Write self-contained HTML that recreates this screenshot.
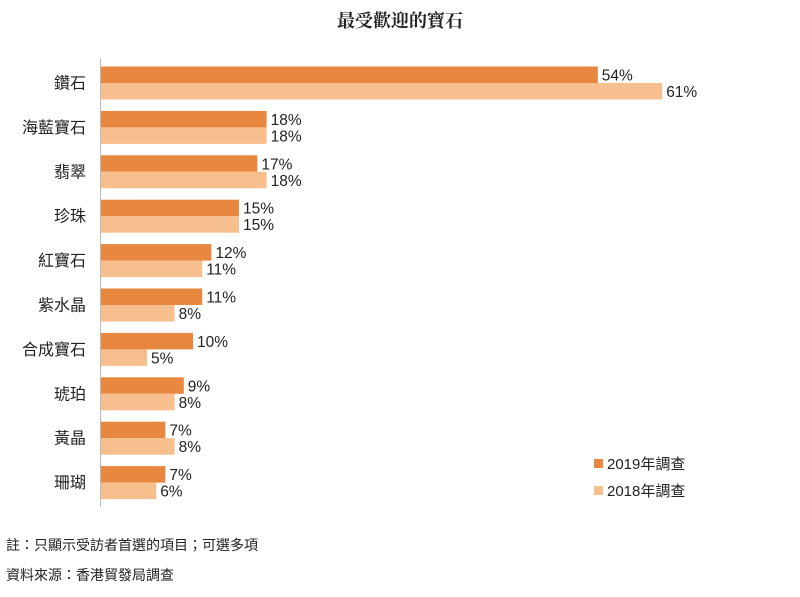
<!DOCTYPE html>
<html><head><meta charset="utf-8"><style>
body{margin:0;background:#fff;}
svg text{font-family:"Liberation Sans","Noto Sans CJK TC",sans-serif;fill:#222;}
.a{fill:#E8873F}.b{fill:#F8BF8E}
.p{font-size:15.5px}.c{font-size:16px;text-anchor:end}
</style></head><body>
<svg width="800" height="592" xmlns="http://www.w3.org/2000/svg">
<text x="400" y="27" text-anchor="middle" style="font-family:'Noto Serif CJK SC',serif;font-size:18px;font-weight:bold" fill="#333">最受歡迎的寶石</text>
<line x1="100.5" y1="58" x2="100.5" y2="507" stroke="#bbb" stroke-width="1"/>

<rect class="a" x="101" y="66.5" width="496.8" height="16.5"/><rect class="b" x="101" y="83" width="561.2" height="16.5"/>
<text class="p" x="601.8" y="80.5">54%</text><text class="p" x="666.2" y="97">61%</text><text class="c" x="86" y="88.5">鑽石</text>

<rect class="a" x="101" y="110.9" width="165.6" height="16.5"/><rect class="b" x="101" y="127.4" width="165.6" height="16.5"/>
<text class="p" x="270.6" y="124.9">18%</text><text class="p" x="270.6" y="141.4">18%</text><text class="c" x="86" y="132.9">海藍寶石</text>

<rect class="a" x="101" y="155.3" width="156.4" height="16.5"/><rect class="b" x="101" y="171.8" width="165.6" height="16.5"/>
<text class="p" x="261.4" y="169.3">17%</text><text class="p" x="270.6" y="185.8">18%</text><text class="c" x="86" y="177.3">翡翠</text>

<rect class="a" x="101" y="199.7" width="138" height="16.5"/><rect class="b" x="101" y="216.2" width="138" height="16.5"/>
<text class="p" x="243" y="213.7">15%</text><text class="p" x="243" y="230.2">15%</text><text class="c" x="86" y="221.7">珍珠</text>

<rect class="a" x="101" y="244.1" width="110.4" height="16.5"/><rect class="b" x="101" y="260.6" width="101.2" height="16.5"/>
<text class="p" x="215.4" y="258.1">12%</text><text class="p" x="206.2" y="274.6">11%</text><text class="c" x="86" y="266.1">紅寶石</text>

<rect class="a" x="101" y="288.5" width="101.2" height="16.5"/><rect class="b" x="101" y="305" width="73.6" height="16.5"/>
<text class="p" x="206.2" y="302.5">11%</text><text class="p" x="178.6" y="319">8%</text><text class="c" x="86" y="310.5">紫水晶</text>

<rect class="a" x="101" y="332.9" width="92" height="16.5"/><rect class="b" x="101" y="349.4" width="46" height="16.5"/>
<text class="p" x="197" y="346.9">10%</text><text class="p" x="151" y="363.4">5%</text><text class="c" x="86" y="354.9">合成寶石</text>

<rect class="a" x="101" y="377.3" width="82.8" height="16.5"/><rect class="b" x="101" y="393.8" width="73.6" height="16.5"/>
<text class="p" x="187.8" y="391.3">9%</text><text class="p" x="178.6" y="407.8">8%</text><text class="c" x="86" y="399.3">琥珀</text>

<rect class="a" x="101" y="421.7" width="64.4" height="16.5"/><rect class="b" x="101" y="438.2" width="73.6" height="16.5"/>
<text class="p" x="169.4" y="435.7">7%</text><text class="p" x="178.6" y="452.2">8%</text><text class="c" x="86" y="443.7">黃晶</text>

<rect class="a" x="101" y="466.1" width="64.4" height="16.5"/><rect class="b" x="101" y="482.6" width="55.2" height="16.5"/>
<text class="p" x="169.4" y="480.1">7%</text><text class="p" x="160.2" y="496.6">6%</text><text class="c" x="86" y="488.1">珊瑚</text>

<rect x="594" y="459" width="9" height="9" fill="#E8873F"/>
<text x="607" y="469" font-size="15">2019年調查</text>
<rect x="594" y="486" width="9" height="9" fill="#F8BF8E"/>
<text x="607" y="496" font-size="15">2018年調查</text>
<text x="6" y="550" font-size="14">註：只顯示受訪者首選的項目；可選多項</text>
<text x="6" y="580" font-size="14">資料來源：香港貿發局調查</text>
</svg>
</body></html>
